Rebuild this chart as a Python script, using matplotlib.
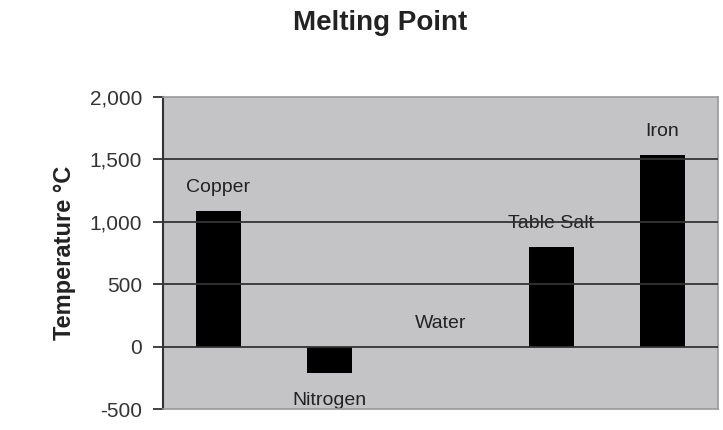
import matplotlib
matplotlib.use('agg')
import matplotlib.pyplot as plt

# melting point data
substances = ["Copper", "Nitrogen", "Water", "Table Salt", "Iron"]
melting_points = [1085, -210, 0, 801, 1538]
y_ticks = [-500, 0, 500, 1000, 1500, 2000]

plt.rcParams['font.family'] = ['Liberation Sans', 'DejaVu Sans']

fig = plt.figure(figsize=(7.23, 4.3), dpi=100)
ax = fig.add_axes([0.2254, 0.0488, 0.7676, 0.7256])
ax.set_facecolor('#c4c3c6')

x = list(range(len(substances)))
ax.bar(x, melting_points, width=0.4, color='black', zorder=2)

# labels above positive bars, below negative ones
for i, (name, val) in enumerate(zip(substances, melting_points)):
    if val < 0:
        ax.annotate(name, (i, val), xytext=(0, -20), textcoords='offset points',
                    ha='center', va='center', fontsize=14, color='#222222', zorder=1)
    else:
        ax.annotate(name, (i, val), xytext=(0, 17), textcoords='offset points',
                    ha='center', va='center', fontsize=14, color='#222222', zorder=1)

ax.set_xlim(-0.5, len(substances) - 0.5)
ax.set_ylim(-500, 2000)
ax.set_yticks(y_ticks)
ax.set_yticklabels(["{:,}".format(v) for v in y_ticks], fontsize=15, color='#333333')
ax.set_xticks([])

for v in y_ticks[1:-1]:
    ax.axhline(v, color='#333333', linewidth=1.3, zorder=3)

for side in ['top', 'right', 'bottom']:
    ax.spines[side].set_color('#999999')
    ax.spines[side].set_linewidth(1.2)
ax.spines['left'].set_color('#333333')
ax.spines['left'].set_linewidth(1.5)
ax.tick_params(axis='y', length=7, width=1.3, color='#333333', pad=8)

ax.set_ylabel("Temperature °C", fontsize=17, fontweight='bold', color='#222222', labelpad=10)
fig.text(380 / 723, 1 - 23 / 430, "Melting Point", ha='center', va='center',
         fontsize=20, fontweight='bold', color='#222222')

plt.savefig("out.png", dpi=100)
